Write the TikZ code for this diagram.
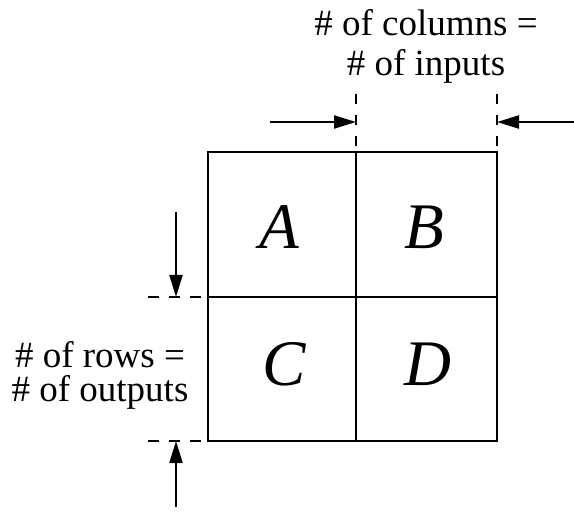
\documentclass[tikz,border=0pt]{standalone}
\usepackage{fontspec}
\setmainfont{Liberation Serif}
\usetikzlibrary{arrows.meta}
\begin{document}
\begin{tikzpicture}[x=1pt,y=-1pt,
  gridline/.style={line width=2.2pt},
  guide/.style={line width=2.2pt, dash pattern=on 10.5pt off 10.5pt},
  pointer/.style={line width=2.2pt, -{Triangle[length=22pt,width=13pt]}},
  cell/.style={font=\fontsize{65}{70}\selectfont\itshape, inner sep=0pt, anchor=base},
  lbl/.style={align=center, inner sep=0pt}]
\useasboundingbox (0,0) rectangle (574,524);
% grid
\coordinate (tl) at (208,152);
\coordinate (tm) at (356,152);
\coordinate (tr) at (497,152);
\coordinate (ml) at (208,297);
\coordinate (mr) at (497,297);
\coordinate (bl) at (208,441);
\coordinate (bm) at (356,441);
\coordinate (br) at (497,441);
\draw[gridline] (tl) rectangle (br);
\draw[gridline] (tm) -- (bm);
\draw[gridline] (ml) -- (mr);
% cell letters
\node[cell] (A) at (279,249) {A};
\node[cell] (B) at (424,249) {B};
\node[cell] (C) at (284,385) {C};
\node[cell] (D) at (428,385) {D};
% top guides
\coordinate (g1) at (356,94);
\coordinate (g2) at (497,94);
\draw[guide] (g1) -- (tm);
\draw[guide] (g2) -- (tr);
\coordinate (p1s) at (270,122);
\coordinate (p1e) at (356,122);
\coordinate (p2s) at (574,122);
\coordinate (p2e) at (497,122);
\draw[pointer] (p1s) -- (p1e);
\draw[pointer] (p2s) -- (p2e);
% left guides
\coordinate (h1) at (148,297);
\coordinate (h2) at (148,441);
\draw[guide] (h1) -- (ml);
\draw[guide] (h2) -- (bl);
\coordinate (q1s) at (176,212);
\coordinate (q1e) at (176,297);
\coordinate (q2s) at (176,507);
\coordinate (q2e) at (176,441);
\draw[pointer] (q1s) -- (q1e);
\draw[pointer] (q2s) -- (q2e);
% labels
\node[lbl, font=\fontsize{37}{40}\selectfont] (cols) at (426,46) {\# of columns =\\\# of inputs};
\node[lbl, font=\fontsize{37}{34}\selectfont] (rows) at (100,375) {\# of rows =\\\# of outputs};
\end{tikzpicture}
\end{document}
